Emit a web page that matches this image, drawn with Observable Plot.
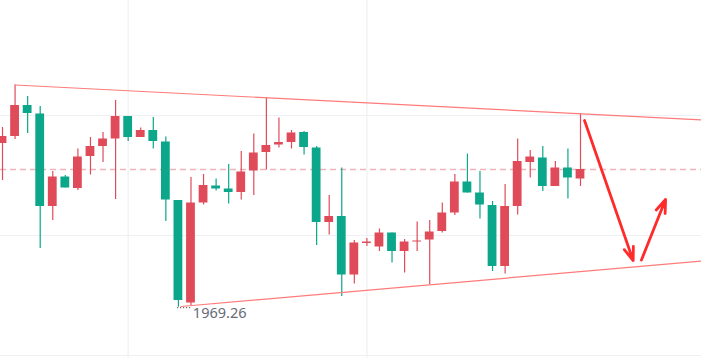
<!DOCTYPE html>
<html>
<head>
<meta charset="utf-8">
<script src="https://cdn.jsdelivr.net/npm/d3@7"></script>
<script src="https://cdn.jsdelivr.net/npm/@observablehq/plot@0.6"></script>
<style>
  html, body { margin: 0; padding: 0; background: #ffffff; }
  #chart svg { display: block; }
</style>
</head>
<body>
<div id="chart"></div>
<script>
// Candle data (price units), index = candle position
const opens  = [2002.0,2003.4,2009.6,2007.9,1989.4,1995.3,1993.0,1999.4,2001.4,2002.9,2007.4,2003.2,2004.6,2002.3,1990.6,1970.1,1990.1,1993.5,1992.9,1992.2,1996.5,2000.2,2001.7,2002.2,2004.2,2001.1,1986.2,1987.4,1975.7,1982.0,1981.3,1984.1,1980.4,1982.3,1982.7,1984.4,1988.1,1994.3,1992.1,1989.6,1977.4,1989.4,1998.2,1999.1,1993.4,1997.1,1994.9];
const highs  = [2005.2,2013.7,2011.4,2009.4,1996.4,1995.6,2000.9,2003.2,2004.2,2010.6,2007.4,2005.1,2007.2,2003.3,1990.6,1995.2,1995.8,1994.9,1997.8,2000.4,2003.9,2011.1,2007.1,2004.6,2004.4,2001.4,1991.6,1997.1,1982.6,1983.0,1984.9,1984.1,1982.8,1986.3,1986.6,1990.1,1995.8,1999.9,1996.4,1990.4,1993.8,2002.9,2000.6,2001.4,1998.4,2000.9,2008.0];
const lows   = [1994.6,2002.8,2004.0,1981.0,1986.6,1993.1,1992.6,1995.7,1998.2,1990.8,2002.4,2003.2,2000.9,1986.4,1969.26,1969.6,1989.7,1992.5,1989.9,1990.7,1991.6,1996.7,2001.1,2000.9,1999.7,1981.6,1983.7,1971.4,1973.9,1981.4,1980.4,1978.1,1976.1,1980.4,1973.8,1984.1,1987.6,1992.1,1986.9,1976.4,1975.9,1987.7,1995.1,1992.4,1993.4,1990.9,1993.4];
const closes = [2003.4,2009.6,2008.0,1989.4,1995.3,1993.1,1999.3,2001.4,2002.9,2007.4,2003.2,2004.6,2002.4,1990.7,1970.6,1990.1,1993.6,1992.9,1992.2,1996.3,2000.1,2001.6,2002.2,2004.1,2001.2,1986.2,1987.4,1975.7,1982.1,1982.3,1984.1,1980.4,1982.3,1982.5,1984.3,1988.1,1994.3,1992.1,1989.7,1977.4,1989.4,1998.4,1999.3,1993.4,1997.1,1995.1,1996.8];

const lastPrice = 1996.8;          // current price (dashed line)
const lowPrice = 1969.26;          // labelled low
const lowIndex = 14;
const gridPrices = [1959.6, 1983.6, 2007.6];
const gridIndex = [10, 29];

// Annotations: trendlines and arrows (index, price)
const upperTrend = [{i: 1, p: 2013.7}, {i: 55.7, p: 2006.7}];
const lowerTrend = [{i: 14.2, p: 1969.4}, {i: 55.7, p: 1978.5}];
const arrows = [
  {i1: 46.32, p1: 2006.6, i2: 50.19, p2: 1978.6},
  {i1: 50.85, p1: 1978.7, i2: 52.77, p2: 1990.8}
];

const RED = "#e04b5a";
const GREEN = "#0ca68a";

const candles = opens.map((o, i) => ({i, o, h: highs[i], l: lows[i], c: closes[i]}));
const upC = candles.filter(d => d.c >= d.o);
const dnC = candles.filter(d => d.c < d.o);

const chart = Plot.plot({
  width: 701,
  height: 358,
  margin: 0,
  style: {background: "#ffffff"},
  x: {domain: [-0.16, 55.63], axis: null},
  y: {domain: [1959.0, 2030.6], axis: null},
  marks: [
    Plot.ruleY(gridPrices, {stroke: "#eef0f3", strokeWidth: 1.2}),
    Plot.ruleX(gridIndex, {stroke: "#eef0f3", strokeWidth: 1.2}),
    Plot.ruleY([lastPrice], {stroke: "#f0b3bb", strokeWidth: 1.3, strokeDasharray: "6,4"}),
    Plot.ruleX(upC, {x: "i", y1: "l", y2: "h", stroke: RED, strokeWidth: 1.2}),
    Plot.ruleX(dnC, {x: "i", y1: "l", y2: "h", stroke: GREEN, strokeWidth: 1.2}),
    Plot.rect(upC, {x1: d => d.i - 0.35, x2: d => d.i + 0.35, y1: "o", y2: "c", fill: RED}),
    Plot.rect(dnC, {x1: d => d.i - 0.35, x2: d => d.i + 0.35, y1: "o", y2: "c", fill: GREEN}),
    Plot.line(upperTrend, {x: "i", y: "p", stroke: "#ff7b7b", strokeWidth: 1.2}),
    Plot.line(lowerTrend, {x: "i", y: "p", stroke: "#ff7b7b", strokeWidth: 1.2}),
    Plot.link([{i1: lowIndex - 0.1, i2: lowIndex + 1.0, p: lowPrice - 0.1}],
      {x1: "i1", x2: "i2", y1: "p", y2: "p", stroke: "#333", strokeWidth: 1, strokeDasharray: "1,2"}),
    Plot.text([{i: lowIndex + 1.15, p: lowPrice - 1.25}], {
      x: "i", y: "p", text: () => d3.format(".2f")(lowPrice),
      textAnchor: "start", lineAnchor: "middle", fill: "#676a76",
      fontSize: 14.5, fontFamily: "Noto Sans, sans-serif"
    }),
    Plot.arrow(arrows, {
      x1: "i1", x2: "i2", y1: "p1", y2: "p2",
      stroke: "#ff2a2a", strokeWidth: 2.8, headLength: 7.5, headAngle: 40
    })
  ]
});
document.getElementById("chart").appendChild(chart);
</script>
</body>
</html>
